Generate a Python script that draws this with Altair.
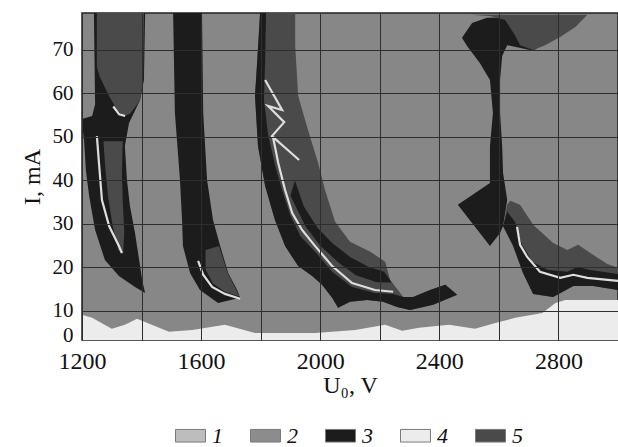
import altair as alt
import pandas as pd

# ---------------- axes -----------------
x_grid_values = [1200, 1400, 1600, 1800, 2000, 2200, 2400, 2600, 2800, 3000]
y_grid_values = [4.4, 10, 20, 30, 40, 50, 60, 70]
x_domain = [1200, 3000]
y_domain = [3.3, 78.5]

# ---------------- legend -----------------
type_names = ["1", "2", "3", "4", "5"]
type_colors = ["#bdbdbd", "#8c8c8c", "#1c1c1c", "#ececec", "#4a4a4a"]

# ---------------- regions (U0 in V, I in mA) -----------------
# region 4: bottom light area
bottom_u = [1200, 1234, 1300, 1344, 1385, 1395, 1492, 1570, 1680, 1781, 1895, 1983,
            2117, 2218, 2275, 2332, 2433, 2520, 2588, 2655, 2746, 2790, 2823, 3000]
bottom_i = [9.1, 8.4, 5.9, 6.8, 8.2, 7.9, 5.2, 5.6, 6.8, 4.9, 4.9, 4.9,
            5.6, 6.8, 5.4, 6.1, 6.8, 5.9, 7.2, 8.4, 9.5, 11.8, 12.5, 12.5]

# band A (1200-1400 V)
a_outer_u = [1240, 1244, 1234, 1200, 1200, 1207, 1213, 1224, 1244, 1277, 1324, 1378, 1412,
             1402, 1395, 1378, 1361, 1351, 1344, 1358, 1395, 1408, 1412]
a_outer_i = [78.5, 57.5, 54.8, 54.1, 52.8, 49.3, 42.4, 36.4, 28.6, 21.7, 18.0, 15.5, 14.1,
             17.1, 20.3, 27.9, 34.1, 40.1, 47.9, 53.2, 58.5, 63.1, 78.5]
a_top_u = [1250, 1250, 1260, 1290, 1318, 1340, 1360, 1380, 1395, 1405, 1408]
a_top_i = [78.5, 66, 63.8, 59.5, 56.2, 54.8, 55.3, 57, 58.5, 63, 78.5]
a_mid_u = [1272, 1278, 1288, 1303, 1322, 1338, 1342, 1337, 1334, 1337]
a_mid_i = [49, 43, 36, 29.5, 24, 23, 28, 35, 42, 49]
a_line_u = [1250, 1257, 1267, 1291, 1324, 1334]
a_line_i = [50.2, 44.0, 35.5, 29.5, 24.9, 23.3]
a_line2_u = [1305, 1325, 1345]
a_line2_i = [57, 55.2, 54.8]

# band B (about 1600 V)
b_outer_u = [1506, 1512, 1529, 1536, 1539, 1563, 1596, 1657, 1731,
             1721, 1691, 1664, 1640, 1620, 1607, 1603]
b_outer_i = [78.5, 55.5, 40.1, 30.9, 24.9, 18.7, 14.8, 11.8, 13.0,
             14.8, 18.7, 24.9, 30.9, 40.1, 55.5, 78.5]
b_side_u = [1615, 1660, 1689, 1718, 1728, 1680, 1640, 1615]
b_side_i = [24, 24.9, 18.7, 14.8, 13.3, 14.4, 16.3, 19.5]
b_line_u = [1590, 1607, 1637, 1680, 1731]
b_line_i = [21.5, 18.3, 15.5, 13.9, 12.8]

# band C (1800-2450 V)
c_outer_u = [1798, 1788, 1781, 1791, 1815, 1848, 1882, 1926, 1973, 2006, 2040, 2060, 2100,
             2158, 2211, 2258, 2302, 2379, 2460, 2420, 2369, 2312, 2279, 2235, 2218, 2168,
             2100, 2050, 2016, 1993, 1959, 1926, 1916, 1916]
c_outer_i = [78.5, 67, 59.4, 47.9, 38.7, 30.9, 24.9, 20.3, 18, 16, 13, 10.7, 12.1,
             12.5, 12.1, 10.9, 10.2, 11.4, 13.7, 16, 14.8, 13.2, 13.2, 17.1, 21.3, 23.6,
             25.9, 30.5, 37.8, 44, 51.6, 59.4, 70.9, 78.5]
c_dark_u = [1798, 1788, 1781, 1791, 1815, 1848, 1882, 1926, 1973, 2006, 2040, 2060, 2100,
            2158, 2211, 2258, 2302, 2379, 2460, 2420, 2369, 2312, 2279, 2245, 2184, 2107,
            2040, 1983, 1933, 1899, 1872, 1848, 1825, 1811, 1815, 1818]
c_dark_i = [78.5, 67, 59.4, 47.9, 38.7, 30.9, 24.9, 20.3, 18, 16, 13, 10.7, 12.1,
            12.5, 12.1, 10.9, 10.2, 11.4, 13.7, 16, 14.8, 13.2, 13.2, 13.9, 14.1, 15.5,
            19, 23.6, 27.2, 32.1, 37.8, 43.6, 50.5, 58.5, 67.7, 78.5]
c_band_u = [1900, 1950, 2000, 2060, 2120, 2190, 2240, 2215, 2160, 2100, 2040, 1990, 1945, 1915]
c_band_i = [36.5, 29.5, 25, 21.2, 18.2, 16.6, 16.5, 19, 20.2, 22.4, 25.6, 29.2, 34, 40]
c_zig_u = [1815, 1872, 1825, 1879, 1838, 1929]
c_zig_i = [63.1, 56.2, 57.1, 53.4, 50.2, 44.7]
c_line_u = [1842, 1859, 1882, 1906, 1939, 1983, 2040, 2107, 2184, 2245]
c_line_i = [49.8, 44.0, 37.8, 32.5, 28.6, 24.9, 20.3, 16.4, 14.8, 14.4]

# band D (2450-3000 V)
d_cap_u = [2476, 2510, 2560, 2739, 2782, 2715, 2628, 2611, 2604, 2604, 2611, 2614, 2628,
           2614, 2604, 2570, 2462, 2570, 2570, 2580, 2570, 2536, 2493]
d_cap_i = [72.8, 76.2, 77.4, 77.6, 72.8, 69.8, 71.1, 68.6, 63.1, 55.5, 47.9, 41.7, 35.5,
           29.5, 27.9, 24.9, 34.4, 39.4, 47.9, 55.5, 63.1, 67, 70.9]
d_bowl_u = [2503, 2897, 2857, 2806, 2755, 2715, 2671, 2654, 2621, 2570]
d_bowl_i = [78.1, 78.1, 75.3, 73, 71.1, 70, 71.1, 73.4, 76.9, 77.8]
d_low_u = [2638, 2671, 2715, 2782, 2830, 2866, 2907, 2964, 3000, 3000, 2917, 2850, 2782,
           2715, 2681, 2648, 2614, 2628]
d_low_i = [35.3, 34.4, 29.8, 25.6, 24, 25.2, 23.3, 20.8, 19.9, 14.8, 15.7, 15.7, 13.2,
           13.9, 18.7, 24.9, 29.5, 34.4]
d_dark_u = [2628, 2654, 2678, 2712, 2765, 2830, 2863, 2907, 3000, 3000, 2917, 2850, 2782,
            2715, 2681, 2648, 2614]
d_dark_i = [32.8, 30.5, 25.2, 21.3, 19.4, 19, 20.1, 19.4, 18.5, 14.8, 15.7, 15.7, 13.2,
            13.9, 18.7, 24.9, 29.5]
d_line_u = [2661, 2671, 2695, 2738, 2806, 2850, 2897, 3000]
d_line_i = [29.3, 25.2, 22.4, 19, 17.6, 18.3, 17.6, 16.9]


def frame(items):
    rows = []
    for name, kind, us, iis in items:
        for k, (u, i) in enumerate(zip(us, iis)):
            rows.append({"shape": name, "type": kind, "k": k, "u": u, "i": i})
    return pd.DataFrame(rows)


bottom_df = pd.DataFrame({"u": bottom_u, "i": bottom_i, "type": "4"})
outer_df = frame([
    ("A1", "3", a_outer_u, a_outer_i),
    ("B1", "3", b_outer_u, b_outer_i),
    ("C1", "5", c_outer_u, c_outer_i),
    ("D1", "3", d_cap_u, d_cap_i),
    ("D2", "5", d_low_u, d_low_i),
])
inner_df = frame([
    ("A2", "5", a_top_u, a_top_i),
    ("A3", "5", a_mid_u, a_mid_i),
    ("B2", "5", b_side_u, b_side_i),
    ("C2", "3", c_dark_u, c_dark_i),
    ("C3", "3", c_band_u, c_band_i),
    ("D3", "5", d_bowl_u, d_bowl_i),
    ("D4", "3", d_dark_u, d_dark_i),
])
lines_df = frame([
    ("la", "4", a_line_u, a_line_i),
    ("la2", "4", a_line2_u, a_line2_i),
    ("lb", "4", b_line_u, b_line_i),
    ("lz", "4", c_zig_u, c_zig_i),
    ("lc", "4", c_line_u, c_line_i),
    ("ld", "4", d_line_u, d_line_i),
])

FONT = "Liberation Serif"
x_scale = alt.Scale(domain=x_domain, nice=False, zero=False)
y_scale = alt.Scale(domain=y_domain, nice=False, zero=False)
color_scale = alt.Scale(domain=type_names, range=type_colors)

legend = alt.Legend(
    title=None, orient="none", legendX=93, legendY=407, direction="horizontal",
    columns=5, gridAlign="all", columnPadding=25, padding=0,
    symbolType="M-1,-0.42H1V0.42H-1Z", symbolSize=900,
    symbolStrokeColor="#7a7a7a", symbolStrokeWidth=1, symbolOpacity=1,
    labelFont=FONT, labelFontStyle="italic", labelFontSize=22, labelColor="#111",
    labelOffset=6,
)

x_axis = alt.Axis(
    values=x_grid_values,
    labelExpr="datum.value % 400 == 0 ? format(datum.value, 'd') : ''",
    ticks=False, domain=False, grid=True, gridColor="#2e2e2e", gridWidth=1,
    labelFont=FONT, labelFontSize=24, labelColor="#111", labelPadding=9, labelFlush=False,
    labelOverlap=False,
    title="U₀, V", titleFont=FONT, titleFontSize=24, titleFontWeight="normal",
    titleColor="#111", titlePadding=0, zindex=1,
)
y_axis = alt.Axis(
    values=y_grid_values,
    labelExpr="datum.value < 6 ? '0' : format(datum.value, 'd')",
    gridOpacity=alt.condition("datum.value < 6", alt.value(0), alt.value(1)),
    ticks=False, domain=False, grid=True, gridColor="#2e2e2e", gridWidth=1,
    labelFont=FONT, labelFontSize=21, labelColor="#111", labelPadding=9, labelFlush=False,
    labelOverlap=False,
    title="I, mA", titleFont=FONT, titleFontSize=24, titleFontWeight="normal",
    titleColor="#111", titlePadding=8, zindex=1,
)

color_enc = alt.Color("type:N", scale=color_scale, legend=legend)

bottom = alt.Chart(bottom_df).mark_area(clip=True).encode(
    x=alt.X("u:Q", scale=x_scale, axis=x_axis),
    y=alt.Y("i:Q", scale=y_scale, axis=y_axis, stack=None),
    y2=alt.datum(3.3),
    color=color_enc,
)

def polys(df):
    return alt.Chart(df).mark_line(filled=True, clip=True, strokeWidth=0).encode(
        x=alt.X("u:Q", scale=x_scale),
        y=alt.Y("i:Q", scale=y_scale, stack=None),
        detail="shape:N",
        order="k:Q",
        color=color_enc,
    )

streaks = alt.Chart(lines_df).mark_line(clip=True, strokeWidth=2.2, color="#dedede").encode(
    x=alt.X("u:Q", scale=x_scale),
    y=alt.Y("i:Q", scale=y_scale),
    detail="shape:N",
    order="k:Q",
)

chart = alt.layer(bottom, polys(outer_df), polys(inner_df), streaks).properties(
    width=536, height=327,
    autosize=alt.AutoSizeParams(type="none"),
    padding={"left": 82, "top": 13, "right": 0, "bottom": 107},
    background="white",
).configure_view(
    fill="#878787", stroke="#222", strokeWidth=1.5
)

chart.save("out.html", embed_options={"renderer": "svg", "actions": False})
